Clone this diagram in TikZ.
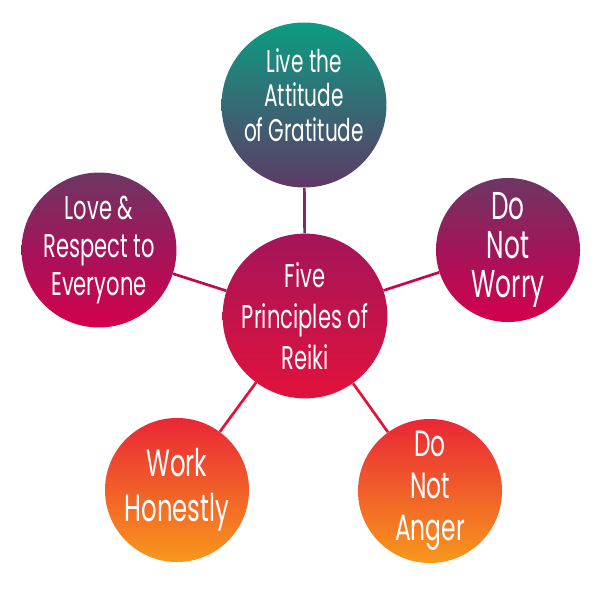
\documentclass[tikz,border=0pt]{standalone}
\usepackage{fontspec}
\setmainfont[FakeStretch=0.64]{Poppins}
\usetikzlibrary{shapes}
\definecolor{tealtop}{HTML}{0C9C82}
\definecolor{plumlow}{HTML}{5E3A66}
\definecolor{plumtop}{HTML}{6C3763}
\definecolor{berrymid}{HTML}{A4145A}
\definecolor{crimson}{HTML}{D4004C}
\definecolor{rubylow}{HTML}{E2123C}
\definecolor{redtop}{HTML}{EA2636}
\definecolor{orangelow}{HTML}{F8981C}

\begin{document}
\begin{tikzpicture}[x=0.025cm,y=-0.025cm,
        bubble/.style={circle,minimum size=3.6cm,inner sep=0,text=white,align=center},
        spoke/.style={line width=1.9pt}]
        \useasboundingbox (0,0) rectangle (600,600);
        % centre and the five principles
        \node[bubble,top color=berrymid,bottom color=rubylow,font=\fontsize{23.4}{29}\selectfont] (reiki) at (305,316) {Five\\Principles of\\Reiki};
        \node[bubble,top color=tealtop,bottom color=plumlow,font=\fontsize{22.3}{24.5}\selectfont] (gratitude) at (304,105) {Live the\\Attitude\\of Gratitude\\[-10pt]\mbox{}};
        \node[bubble,top color=plumtop,bottom color=crimson,middle color=berrymid,font=\fontsize{23.4}{27}\selectfont] (respect) at (99,250) {Love \&\\Respect to\\Everyone};
        \node[bubble,top color=plumtop,bottom color=crimson,middle color=berrymid,font=\fontsize{27.6}{28}\selectfont] (worry) at (508,250) {Do\\Not\\Worry};
        \node[bubble,top color=redtop,bottom color=orangelow,font=\fontsize{27.1}{32}\selectfont] (honest) at (177,490) {Work\\Honestly};
        \node[bubble,top color=redtop,bottom color=orangelow,font=\fontsize{26}{30}\selectfont] (anger) at (430,491) {Do\\Not\\Anger};
        % spokes
        \draw[spoke,color=plumlow!60!berrymid] (reiki) -- (gratitude);
        \draw[spoke,color=crimson!85!plumtop] (reiki) -- (respect);
        \draw[spoke,color=crimson!85!plumtop] (reiki) -- (worry);
        \draw[spoke,color=rubylow] (reiki) -- (honest);
        \draw[spoke,color=rubylow] (reiki) -- (anger);
\end{tikzpicture}
\end{document}
